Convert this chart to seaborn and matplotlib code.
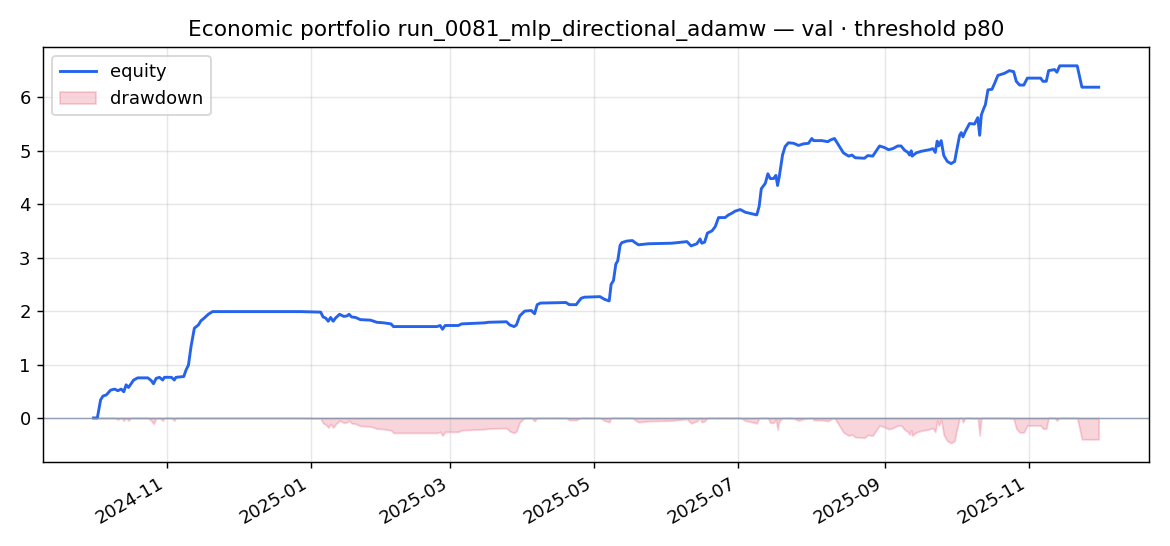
import numpy as np
import pandas as pd
import seaborn as sns
import matplotlib
matplotlib.use("Agg")
import matplotlib.pyplot as plt
import matplotlib.dates as mdates

# equity curve: days since 2024-10-01 and equity value
start_date = "2024-10-01"
days = [
    0, 1.6, 3.0, 4.0, 5.4, 7.2, 8.9, 10.3, 11.7, 12.8, 13.8, 14.8, 15.9, 17.0,
    18.7, 23.0, 24.4, 25.4, 26.5, 27.9, 29.3, 30.0, 33.0, 34.2, 34.9, 38.2,
    39.2, 40.2, 41.3, 42.7, 44.4, 45.5, 46.9, 48.6, 50.4, 87.8, 96.2,
    97.2, 98.3, 99.4, 100.4, 101.5, 102.5, 104.2, 106.0, 107.4, 108.2, 109.3,
    111.0, 113.0, 117.3, 120.0, 122.9, 126.0, 127.0, 145.4, 146.8, 147.8,
    148.9, 154.5, 155.9, 165.7, 167.1, 174.9, 176.3, 178.1, 179.1, 180.5,
    182.6, 185.4, 186.8, 187.9, 189.3, 200.1, 201.5, 204.4, 206.5, 207.9,
    214.5, 216.4, 218.4, 219.2, 220.2, 221.2, 222.0, 223.0, 223.7, 225.8,
    228.2, 229.4, 230.8, 235.0, 244.9, 251.3, 253.1, 255.5, 256.9, 257.6,
    258.8, 260.0, 261.9, 263.3, 264.7, 267.5, 268.9, 270.3, 271.7, 273.9,
    276.0, 280.9, 281.9, 282.8, 284.5, 285.6, 286.6, 288.0, 289.0, 289.7,
    290.4, 291.8, 292.9, 294.3, 296.5, 298.6, 300.7, 302.8, 304.2, 305.0,
    308.5, 311.0, 312.0, 313.8, 315.5, 317.6, 319.8, 321.2, 322.6,
    326.5, 327.9, 330.0, 331.5, 332.9, 335.0, 336.7, 338.5, 340.6, 342.0,
    343.5, 344.9, 345.6, 346.3, 346.7, 348.4, 350.5, 354.0, 355.5, 356.5,
    357.3, 358.0, 359.0, 360.1, 361.6, 363.2, 364.7, 365.4, 366.8, 367.5,
    368.2, 369.2, 371.0, 373.1, 374.5, 375.3, 376.0, 377.0, 377.7, 378.8,
    380.5, 381.6, 383.0, 384.4, 385.8, 387.9, 389.7, 390.8, 392.2, 394.0,
    395.5, 401.1, 402.1, 403.5, 404.5, 407.0, 408.0, 409.2, 416.6, 418.6,
    425.7,
]
equity = [
    0.0, 0.0, 0.34, 0.41, 0.43, 0.52, 0.54, 0.51, 0.54, 0.49, 0.62, 0.57, 0.64, 0.71,
    0.75, 0.75, 0.70, 0.64, 0.74, 0.76, 0.71, 0.76, 0.76, 0.71, 0.76, 0.775,
    0.90, 0.99, 1.34, 1.68, 1.74, 1.82, 1.87, 1.94, 1.99, 1.99, 1.98,
    1.89, 1.87, 1.81, 1.88, 1.81, 1.87, 1.94, 1.90, 1.91, 1.94, 1.89,
    1.88, 1.84, 1.83, 1.79, 1.78, 1.76, 1.71, 1.71, 1.73, 1.66,
    1.73, 1.73, 1.76, 1.78, 1.79, 1.80, 1.74, 1.71, 1.74, 1.91,
    2.00, 2.01, 1.95, 2.12, 2.15, 2.16, 2.12, 2.12, 2.24, 2.26,
    2.27, 2.22, 2.19, 2.50, 2.57, 2.88, 2.94, 3.23, 3.28, 3.31,
    3.32, 3.28, 3.24, 3.26, 3.27, 3.30, 3.22, 3.26, 3.35, 3.27,
    3.29, 3.46, 3.50, 3.58, 3.75, 3.75, 3.80, 3.83, 3.87, 3.90,
    3.85, 3.80, 3.96, 4.29, 4.39, 4.57, 4.48, 4.48, 4.54, 4.35,
    4.51, 4.92, 5.08, 5.15, 5.14, 5.10, 5.13, 5.14, 5.23, 5.19,
    5.19, 5.17, 5.20, 5.23, 5.11, 4.96, 4.90, 4.92, 4.87,
    4.86, 4.91, 4.90, 5.00, 5.09, 5.06, 5.02, 5.04, 5.09, 5.09,
    5.01, 4.97, 4.92, 5.00, 4.90, 4.96, 4.99, 5.02, 5.04, 4.97,
    5.18, 5.09, 5.19, 4.91, 4.80, 4.76, 4.80, 4.97, 5.29, 5.34,
    5.26, 5.36, 5.51, 5.50, 5.62, 5.29, 5.67, 5.79, 5.86, 6.14,
    6.15, 6.26, 6.41, 6.43, 6.45, 6.50, 6.48, 6.30, 6.23, 6.23,
    6.36, 6.36, 6.30, 6.30, 6.50, 6.52, 6.47, 6.59, 6.59, 6.19,
    6.19,
]

df = pd.DataFrame({
    "date": pd.Timestamp(start_date) + pd.to_timedelta(days, unit="D"),
    "equity": equity,
})
# drawdown = equity minus its running peak
df["drawdown"] = df["equity"] - df["equity"].cummax()

fig, ax = plt.subplots(figsize=(9, 4.2), dpi=130)

sns.lineplot(data=df, x="date", y="equity", ax=ax, color="#2563eb",
             linewidth=1.6, label="equity")
ax.fill_between(df["date"], df["drawdown"], 0, color="crimson", alpha=0.18,
                linewidth=1, label="drawdown")
ax.axhline(0, color="#8090a8", linewidth=0.8, alpha=0.8)

ax.set_title("Economic portfolio run_0081_mlp_directional_adamw — val · threshold p80",
             fontsize=12)
ax.set_xlabel("")
ax.set_ylabel("")
ax.grid(True, alpha=0.3)
ax.xaxis.set_major_locator(mdates.MonthLocator(bymonth=[1, 3, 5, 7, 9, 11]))
ax.xaxis.set_major_formatter(mdates.DateFormatter("%Y-%m"))
ax.legend(loc="upper left")
fig.autofmt_xdate()

fig.subplots_adjust(left=0.037, right=0.982, top=0.914, bottom=0.154)
fig.savefig("out.png", dpi=130)
